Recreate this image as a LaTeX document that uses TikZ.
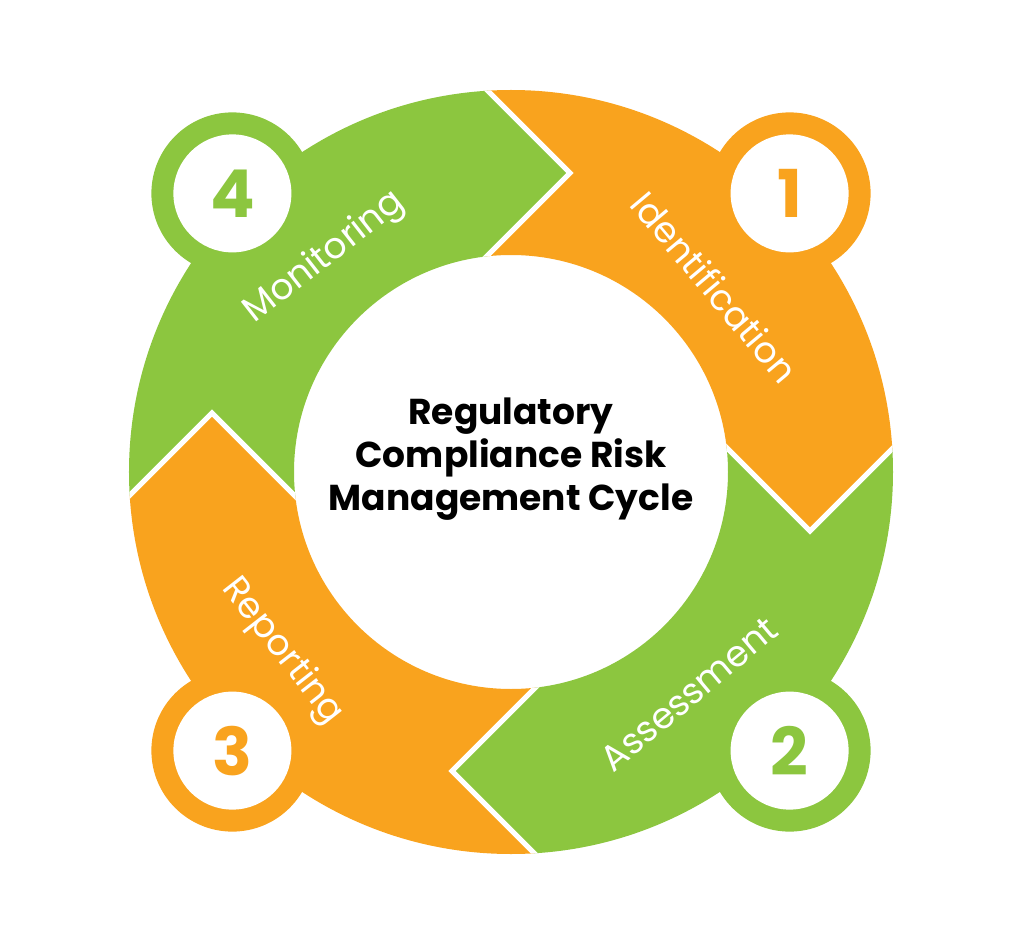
\documentclass[tikz,border=0pt]{standalone}
\usepackage{fontspec}
\setmainfont{Poppins}
\usetikzlibrary{positioning,calc}
\definecolor{cycorange}{HTML}{F9A31E}
\definecolor{cycgreen}{HTML}{8CC63F}

\begin{document}
\begin{tikzpicture}[x=1pt, y=1pt,
  badge/.style={circle, fill=white, minimum size=118pt, inner sep=0pt, font=\fontsize{66}{66}\selectfont\bfseries},
  steplabel/.style={text=white, font=\fontsize{36}{40}\selectfont, inner sep=0pt},
  gapline/.style={white, line width=5pt, line join=miter}]

\useasboundingbox (-511,-473) rectangle (511,472);

% ring segments, clipped to the annulus
\begin{scope}[even odd rule]
  \clip (0,0) circle (382pt) (0,0) circle (217pt);
  \foreach \ang/\col in {0/cycorange, -90/cycgreen, -180/cycorange, -270/cycgreen} {
    \fill[\col, rotate=\ang] (0,0) -- (-61,179) -- (59,299) -- (-61,419) -- (450,450)
      -- (419,61) -- (299,-59) -- (179,61) -- cycle;
  }
  \foreach \ang in {0,-90,-180,-270} {
    \draw[gapline, rotate=\ang] (-61,179) -- (59,299) -- (-61,419);
  }
\end{scope}

% numbered badges
\foreach \ang/\num/\col in {45/1/cycorange, -45/2/cycgreen, -135/3/cycorange, 135/4/cycgreen} {
  \fill[\col] (\ang:394) circle (81pt);
  \node[badge, text=\col] (badge\num) at (\ang:394) {\num};
}

% step names
\node[steplabel, rotate=-50] (ident) at (204,185) {Identification};
\node[steplabel, rotate=40] (assess) at (178,-222) {Assessment};
\node[steplabel, rotate=-52] (report) at (-229,-180) {Reporting};
\node[steplabel, rotate=38] (monitor) at (-186,214) {Monitoring};

\node[align=center, font=\fontsize{36}{43}\selectfont\bfseries] (title) at (0,13)
  {Regulatory\\Compliance Risk\\Management Cycle};

\end{tikzpicture}
\end{document}
